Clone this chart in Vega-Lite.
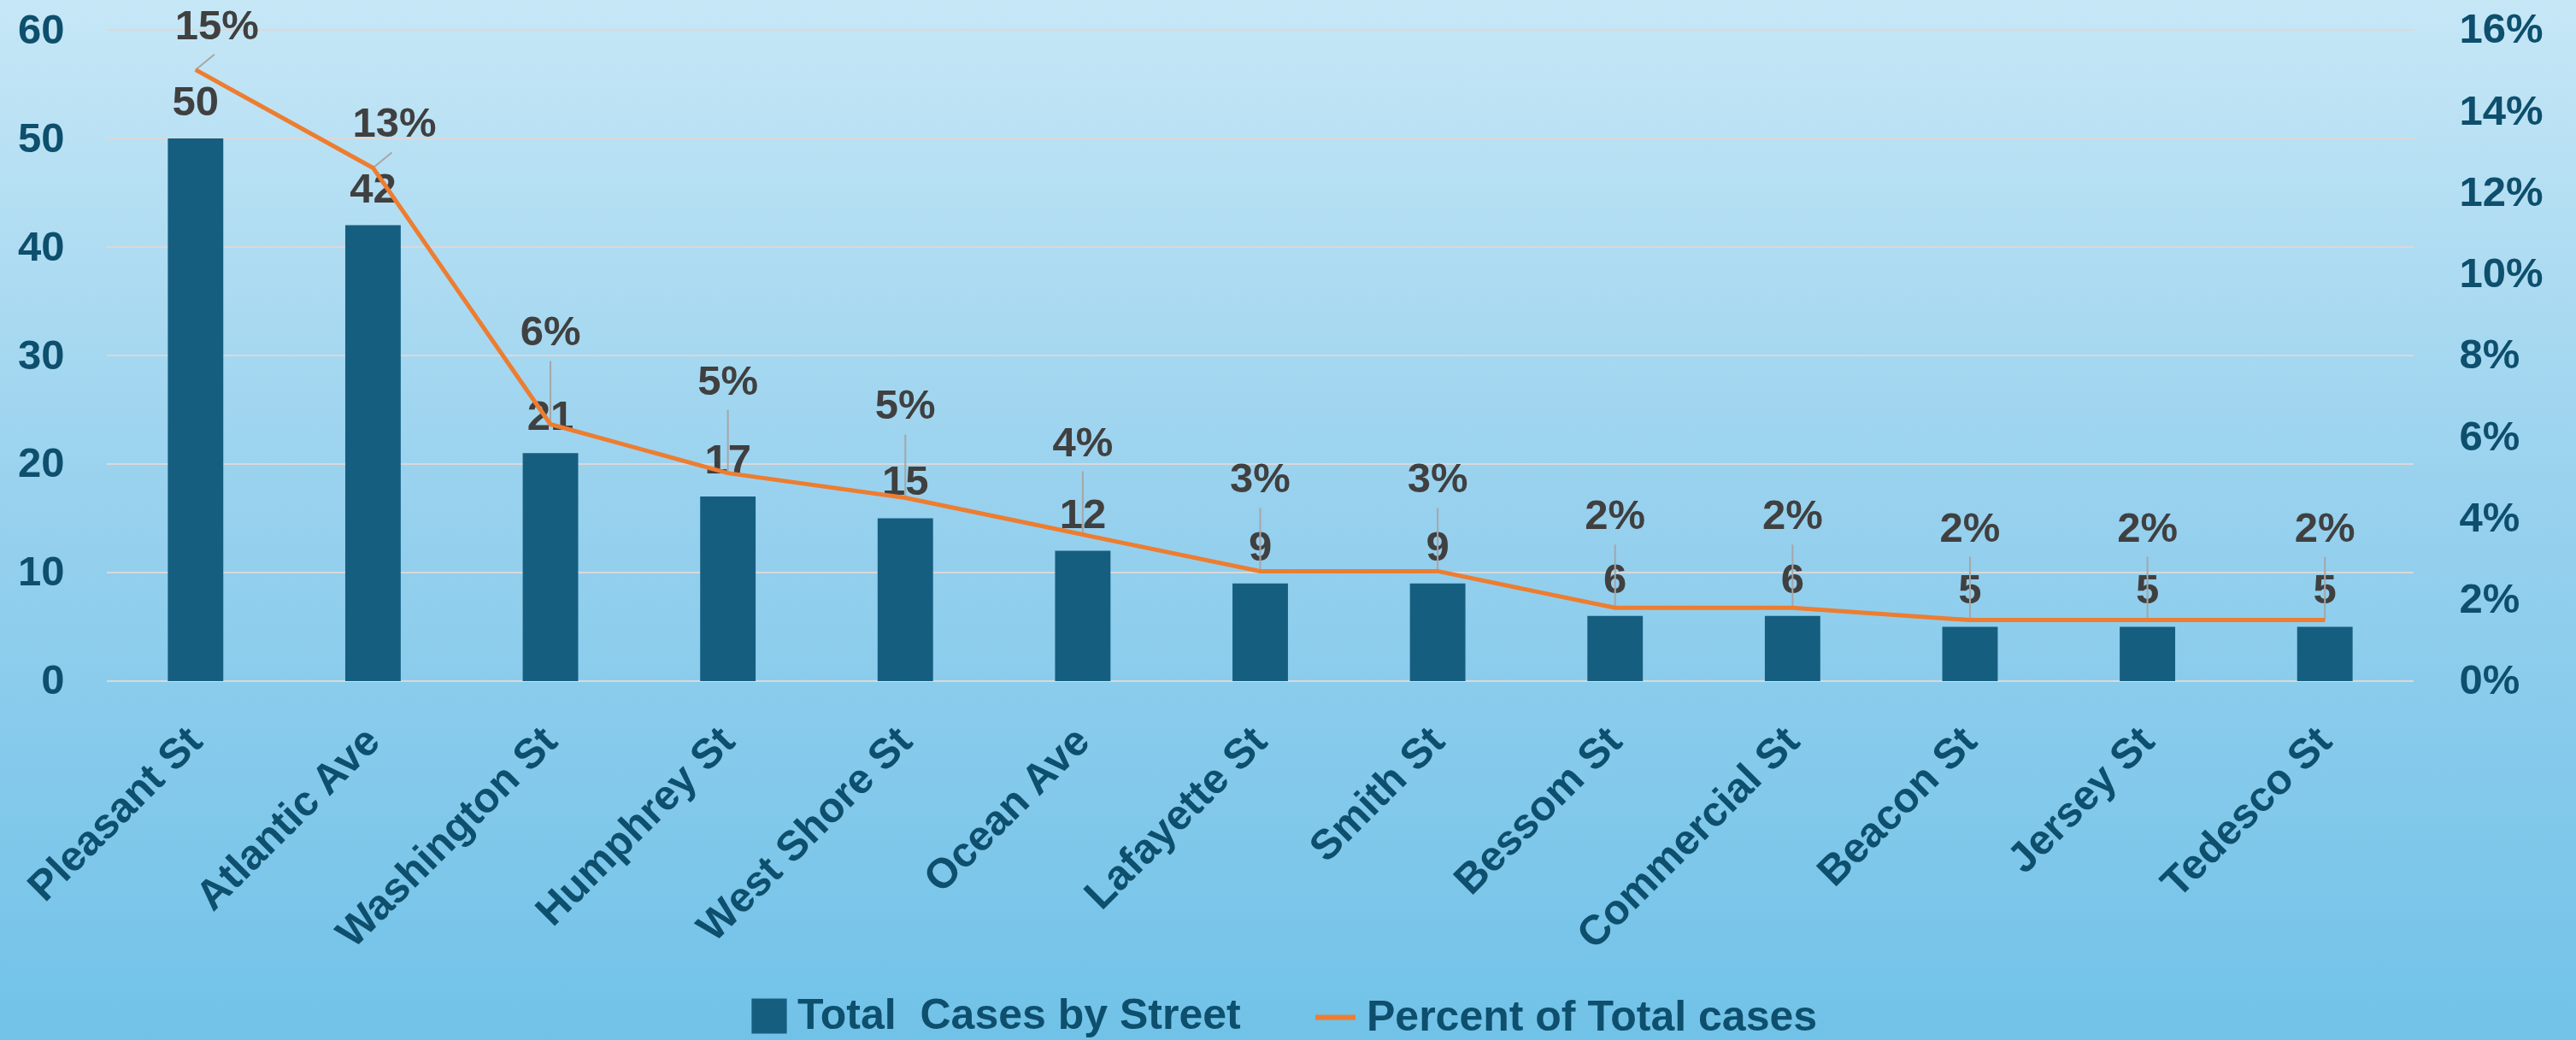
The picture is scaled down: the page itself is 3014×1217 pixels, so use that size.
{
  "$schema": "https://vega.github.io/schema/vega-lite/v6.json",
  "width": 3014,
  "height": 1217,
  "autosize": {"type": "none"},
  "padding": 0,
  "background": "#7cc5e9",
  "config": {
    "view": {
      "stroke": null,
      "fill": {"gradient": "linear", "x1": 0, "y1": 0, "x2": 0, "y2": 1,
        "stops": [
          {"offset": 0, "color": "#c6e7f6"},
          {"offset": 0.49, "color": "#97d1ee"},
          {"offset": 1, "color": "#71c2e8"}
        ]}
    },
    "font": "Liberation Sans",
    "axis": {
      "labelFont": "Liberation Sans",
      "labelFontWeight": "bold",
      "labelFontSize": 49,
      "labelColor": "#0d4f6d",
      "domain": false,
      "ticks": false,
      "grid": false,
      "title": null,
      "labelFlush": false,
      "labelOverlap": false
    },
    "legend": {
      "labelFont": "Liberation Sans",
      "labelFontWeight": "bold",
      "labelFontSize": 50,
      "labelColor": "#0d4f6d",
      "labelLimit": 2000,
      "padding": 0,
      "title": null
    }
  },
  "data": {
    "values": [
      {"street": "Pleasant St", "cases": 50, "pct": 0.1502},
      {"street": "Atlantic Ave", "cases": 42, "pct": 0.1261},
      {"street": "Washington St", "cases": 21, "pct": 0.0631},
      {"street": "Humphrey St", "cases": 17, "pct": 0.0511},
      {"street": "West Shore St", "cases": 15, "pct": 0.04505},
      {"street": "Ocean Ave", "cases": 12, "pct": 0.036},
      {"street": "Lafayette St", "cases": 9, "pct": 0.027},
      {"street": "Smith St", "cases": 9, "pct": 0.027},
      {"street": "Bessom St", "cases": 6, "pct": 0.018},
      {"street": "Commercial St", "cases": 6, "pct": 0.018},
      {"street": "Beacon St", "cases": 5, "pct": 0.015},
      {"street": "Jersey St", "cases": 5, "pct": 0.015},
      {"street": "Tedesco St", "cases": 5, "pct": 0.015}
    ]
  },
  "encoding": {
    "x": {
      "field": "street",
      "type": "nominal",
      "sort": null,
      "scale": {
        "domain": ["Pleasant St", "Atlantic Ave", "Washington St", "Humphrey St", "West Shore St", "Ocean Ave", "Lafayette St", "Smith St", "Bessom St", "Commercial St", "Beacon St", "Jersey St", "Tedesco St"],
        "range": [125, 2824],
        "paddingInner": 0.6875,
        "paddingOuter": 0.34375
      },
      "axis": {
        "title": null,
        "offset": -420,
        "labelAngle": -45,
        "labelAlign": "right",
        "labelBaseline": "middle",
        "labelPadding": 62,
        "labelOffset": 0,
        "labelLimit": 0
      }
    }
  },
  "layer": [
    {
      "layer": [
        {
          "data": {"values": [{"v": 0}, {"v": 10}, {"v": 20}, {"v": 30}, {"v": 40}, {"v": 50}, {"v": 60}]},
          "mark": {"type": "rule", "color": "#d9d9d9", "strokeWidth": 2},
          "encoding": {
            "x": {"datum": "Pleasant St", "type": "nominal", "bandPosition": -1.1},
            "x2": {"datum": "Tedesco St", "bandPosition": 2.1},
            "y": {"field": "v", "type": "quantitative"}
          }
        },
        {
          "mark": {"type": "bar", "color": "#155e80"},
          "encoding": {
            "y": {
              "field": "cases",
              "type": "quantitative",
              "scale": {"domain": [-33.071, 62.756], "nice": false, "zero": false},
              "axis": {
                "orient": "left",
                "offset": -125,
                "values": [0, 10, 20, 30, 40, 50, 60],
                "labelPadding": 50
              }
            },
            "fill": {
              "datum": "Total\u00a0 Cases by Street",
              "scale": {"range": ["#155e80"]},
              "legend": {
                "orient": "none",
                "legendX": 875,
                "legendY": 1164,
                "symbolType": "square",
                "symbolSize": 1700,
                "symbolStrokeWidth": 0,
                "labelOffset": 8
              }
            }
          }
        },
        {
          "mark": {"type": "text", "dy": -42, "font": "Liberation Sans", "fontWeight": "bold", "fontSize": 49, "color": "#404040", "baseline": "middle"},
          "encoding": {
            "y": {"field": "cases", "type": "quantitative"},
            "text": {"field": "cases", "type": "quantitative"}
          }
        }
      ]
    },
    {
      "layer": [
        {
          "transform": [{"filter": "datum.pct <= 0.1"}],
          "mark": {"type": "rule", "color": "#a6a6a6", "strokeWidth": 2, "y2Offset": -74},
          "encoding": {
            "y": {"field": "pct", "type": "quantitative"},
            "y2": {"field": "pct"}
          }
        },
        {
          "transform": [{"filter": "datum.pct > 0.1"}],
          "mark": {"type": "rule", "color": "#a6a6a6", "strokeWidth": 2, "y2Offset": -18, "x2Offset": 22},
          "encoding": {
            "y": {"field": "pct", "type": "quantitative"},
            "y2": {"field": "pct"},
            "x2": {"field": "street"}
          }
        },
        {
          "mark": {"type": "line", "strokeWidth": 5},
          "encoding": {
            "y": {
              "field": "pct",
              "type": "quantitative",
              "scale": {"domain": [-0.088189, 0.167349], "nice": false, "zero": false},
              "axis": {
                "orient": "right",
                "offset": -190,
                "values": [0, 0.02, 0.04, 0.06, 0.08, 0.1, 0.12, 0.14, 0.16],
                "format": ".0%",
                "labelPadding": 53
              }
            },
            "stroke": {
              "datum": "Percent of Total cases",
              "scale": {"range": ["#ed7d31"]},
              "legend": {
                "orient": "none",
                "legendX": 1536,
                "legendY": 1164,
                "symbolType": "stroke",
                "symbolSize": 2200,
                "symbolStrokeWidth": 6,
                "labelOffset": 10
              }
            }
          }
        },
        {
          "transform": [{"filter": "datum.pct > 0.1"}],
          "mark": {"type": "text", "dy": -51, "dx": 25, "font": "Liberation Sans", "fontWeight": "bold", "fontSize": 49, "color": "#404040", "baseline": "middle"},
          "encoding": {
            "y": {"field": "pct", "type": "quantitative"},
            "text": {"field": "pct", "type": "quantitative", "format": ".0%"}
          }
        },
        {
          "transform": [{"filter": "datum.pct <= 0.1"}],
          "mark": {"type": "text", "dy": -107, "font": "Liberation Sans", "fontWeight": "bold", "fontSize": 49, "color": "#404040", "baseline": "middle"},
          "encoding": {
            "y": {"field": "pct", "type": "quantitative"},
            "text": {"field": "pct", "type": "quantitative", "format": ".0%"}
          }
        }
      ]
    }
  ],
  "resolve": {"scale": {"y": "independent"}}
}
